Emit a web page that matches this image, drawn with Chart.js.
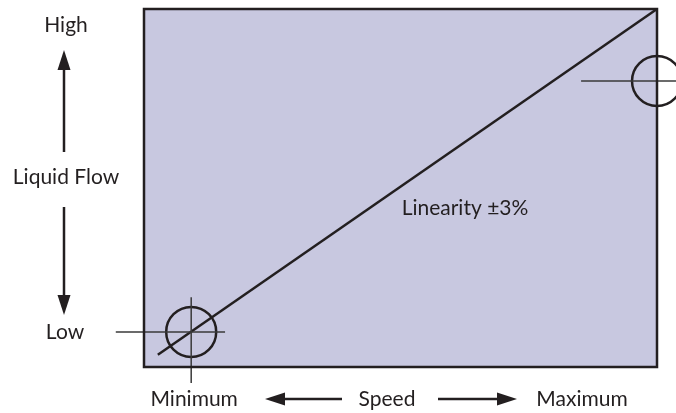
<!DOCTYPE html>
<html>
<head>
<meta charset="utf-8">
<script src="https://cdn.jsdelivr.net/npm/chart.js@4.4.1/dist/chart.umd.min.js"></script>
<style>
  html, body { margin: 0; padding: 0; background: #fff; }
  #wrap { width: 676px; height: 413px; }
</style>
</head>
<body>
<div id="wrap"><canvas id="flowChart" width="676" height="413"></canvas></div>
<script>
// speed / flow both as percent of full range
const linearityLine = [{ x: 2.7, y: 3.4 }, { x: 100, y: 100 }];
const calPoints = [{ x: 9.2, y: 9.8 }, { x: 100, y: 79.9 }];
const lowCrossH = [{ x: -5.5, y: 9.8 }, { x: 15.8, y: 9.8 }];
const lowCrossV = [{ x: 9.2, y: 19.5 }, { x: 9.2, y: -4.5 }];
const highCrossH = [{ x: 85.2, y: 79.9 }, { x: 103.7, y: 79.9 }];

const yLabels = ["Low", "Liquid Flow", "High"];
const xLabels = ["Minimum", "Speed", "Maximum"];
const noteText = "Linearity ±3%";

const INK = "#231f20";
const FONT = "21px Lato";

function arrow(ctx, x1, y1, x2, y2) {
  // shaft from (x1,y1) to tip at (x2,y2)
  const ang = Math.atan2(y2 - y1, x2 - x1);
  const len = 20, half = 6.5;
  const bx = x2 - Math.cos(ang) * len, by = y2 - Math.sin(ang) * len;
  ctx.beginPath();
  ctx.moveTo(x1, y1);
  ctx.lineTo(bx, by);
  ctx.stroke();
  ctx.beginPath();
  ctx.moveTo(x2, y2);
  ctx.lineTo(bx - Math.sin(ang) * half, by + Math.cos(ang) * half);
  ctx.lineTo(bx + Math.sin(ang) * half, by - Math.cos(ang) * half);
  ctx.closePath();
  ctx.fill();
}

const framePlugin = {
  id: "frame",
  beforeDatasetsDraw(chart) {
    const { ctx, chartArea: a } = chart;
    ctx.save();
    ctx.fillStyle = "#c8c8e0";
    ctx.fillRect(a.left, a.top, a.right - a.left, a.bottom - a.top);
    ctx.restore();
  },
  afterDatasetsDraw(chart) {
    const { ctx, chartArea: a, scales } = chart;
    ctx.save();
    ctx.strokeStyle = INK;
    ctx.lineWidth = 2.5;
    ctx.strokeRect(a.left, a.top, a.right - a.left, a.bottom - a.top);

    ctx.fillStyle = INK;
    ctx.font = FONT;
    ctx.textAlign = "center";
    ctx.textBaseline = "middle";
    const lowY = scales.y.getPixelForValue(calPoints[0].y);
    const minX = scales.x.getPixelForValue(calPoints[0].x);

    // y side labels
    ctx.fillText(yLabels[0], 65, lowY);
    ctx.fillText(yLabels[1], 66, 177);
    ctx.fillText(yLabels[2], 66, 25);
    // x side labels
    const ty = 399;
    ctx.fillText(xLabels[0], minX + 3, ty);
    ctx.fillText(xLabels[1], 387, ty);
    ctx.fillText(xLabels[2], 582, ty);
    // note
    ctx.fillText(noteText, 465, 208);

    // arrows
    ctx.lineWidth = 2.5;
    arrow(ctx, 64, 152, 64, 50);
    arrow(ctx, 64, 207, 64, 315);
    arrow(ctx, 342, ty, 265, ty);
    arrow(ctx, 438, ty, 517, ty);
    ctx.restore();
  }
};

const segStyle = { borderColor: "#3a3a3a", borderWidth: 1.5, pointRadius: 0, showLine: true, fill: false };

new Chart(document.getElementById("flowChart"), {
  type: "scatter",
  data: {
    datasets: [
      { data: lowCrossH, ...segStyle },
      { data: lowCrossV, ...segStyle },
      { data: highCrossH, ...segStyle },
      { data: linearityLine, borderColor: INK, borderWidth: 2.5, pointRadius: 0, showLine: true, fill: false },
      { data: calPoints, pointStyle: "circle", pointRadius: 25, pointBorderWidth: 2.5,
        pointBorderColor: INK, pointBackgroundColor: "rgba(0,0,0,0)", showLine: false }
    ]
  },
  options: {
    responsive: false,
    animation: false,
    clip: false,
    layout: { autoPadding: false, padding: { left: 144, right: 19, top: 9, bottom: 46 } },
    scales: {
      x: { type: "linear", min: 0, max: 100, display: false },
      y: { type: "linear", min: 0, max: 100, display: false }
    },
    plugins: { legend: { display: false }, tooltip: { enabled: false } }
  },
  plugins: [framePlugin]
});
</script>
</body>
</html>
